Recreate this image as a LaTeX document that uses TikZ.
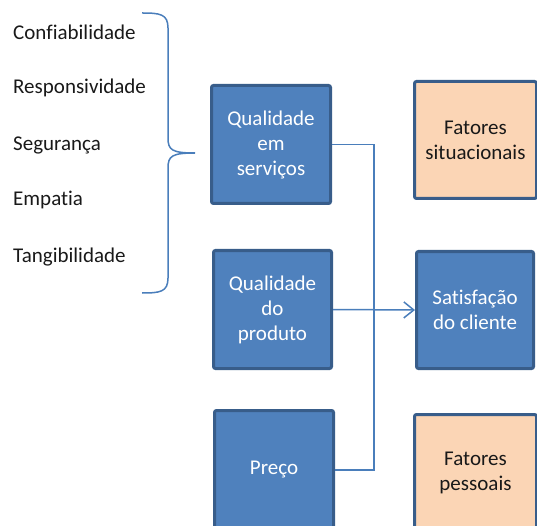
\documentclass[tikz,border=0pt]{standalone}
\usepackage{fontspec}
\setmainfont{Carlito}[Ligatures={NoCommon}]
\usetikzlibrary{arrows.meta}
\definecolor{boxblue}{HTML}{4F81BD}
\definecolor{boxedge}{HTML}{385D8A}
\definecolor{peach}{HTML}{FBD5B5}
\definecolor{linkblue}{HTML}{4A7EBB}
\tikzset{
  bluebox/.style={draw=boxedge, fill=boxblue, line width=3pt, rounded corners=2pt,
    text=white, align=center, inner sep=0pt, font=\fontsize{21}{25}\selectfont},
  peachbox/.style={draw=boxedge, fill=peach, line width=3pt, rounded corners=2pt,
    text=black!90, align=center, inner sep=0pt, font=\fontsize{21}{25}\selectfont},
  dimlabel/.style={anchor=west, inner sep=0pt, text=black!90, font=\fontsize{21}{25}\selectfont},
  conn/.style={draw=linkblue, line width=1.5pt},
}
\begin{document}
\begin{tikzpicture}[x=1pt,y=-1pt]
\useasboundingbox (0,0) rectangle (537,526);
\clip (0,0) rectangle (537,526);
% left dimension labels
\node[dimlabel] (d1) at (13,32) {Confiabilidade};
\node[dimlabel] (d2) at (13,88) {Responsividade};
\node[dimlabel] (d3) at (13,145) {Segurança};
\node[dimlabel] (d4) at (13,200) {Empatia};
\node[dimlabel] (d5) at (13,257) {Tangibilidade};
% brace
\draw[linkblue, line width=1.5pt]
  (142,13) .. controls (160,13) and (168,14) .. (168,28)
  -- (168,138) .. controls (168,150) and (172,153) .. (195,153)
  .. controls (172,153) and (168,156) .. (168,168)
  -- (168,278) .. controls (168,292) and (160,293) .. (142,293);
% boxes
\node[bluebox, minimum width=119pt, minimum height=118pt] (qs) at (271,144.5) {Qualidade\\em\\serviços};
\node[bluebox, minimum width=118pt, minimum height=118pt] (qp) at (272.5,309.5) {Qualidade\\do\\produto};
\node[bluebox, minimum width=119pt, minimum height=119pt] (pr) at (274,470) {Preço};
\node[peachbox, minimum width=122pt, minimum height=117pt] (fs) at (475.5,140) {Fatores\\situacionais};
\node[bluebox, minimum width=117pt, minimum height=117pt] (sat) at (475,310) {Satisfação\\do cliente};
\node[peachbox, minimum width=122pt, minimum height=117pt] (fp) at (475.5,473) {Fatores\\pessoais};
% connectors
\coordinate (j) at (374,309.5);
\draw[conn] (qs.east) -| (j) |- (pr.east);
\draw[conn, -{Straight Barb[length=10pt,width=16pt]}] (qp.east) -- (sat.west);
\end{tikzpicture}
\end{document}
